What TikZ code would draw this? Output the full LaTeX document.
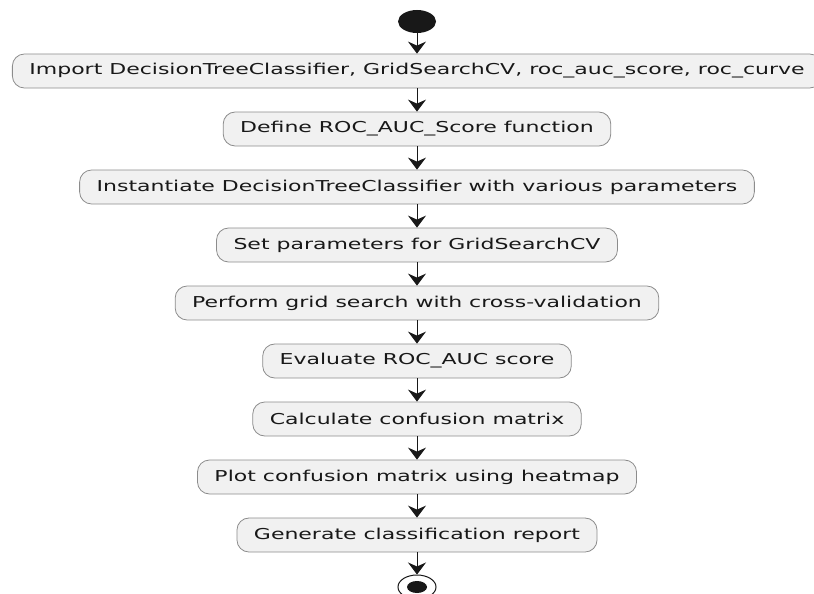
\documentclass[tikz,border=0pt]{standalone}
\usepackage{fontspec}
\setmainfont{DejaVu Sans}[FakeStretch=1.466]
\usetikzlibrary{arrows.meta,shapes.geometric}
\definecolor{actfill}{HTML}{F1F1F1}
\definecolor{actline}{HTML}{8C8C8C}
\definecolor{flowline}{HTML}{181818}
\begin{document}
\begin{tikzpicture}[
  x=1pt, y=1pt,
  action/.style={rectangle, rounded corners=12pt, draw=actline, line width=0.8pt, fill=actfill, minimum height=34pt, inner xsep=17pt, text=flowline},
  flow/.style={-{Stealth[length=12pt, width=18pt, inset=4pt]}, draw=flowline, line width=1pt},
  node distance=58pt,
  font=\fontsize{15}{18}\selectfont
]
\useasboundingbox (0,0) rectangle (814,-594);

\node[ellipse, fill=flowline, minimum width=38pt, minimum height=23pt, inner sep=0pt] (start) at (417,-21.5) {};
\node[action] (import) at (417,-71) {Import DecisionTreeClassifier, GridSearchCV, roc\_auc\_score, roc\_curve};
\node[action, below of=import] (defroc) {Define ROC\_AUC\_Score function};
\node[action, below of=defroc] (inst) {Instantiate DecisionTreeClassifier with various parameters};
\node[action, below of=inst] (setparams) {Set parameters for GridSearchCV};
\node[action, below of=setparams] (search) {Perform grid search with cross-validation};
\node[action, below of=search] (evalroc) {Evaluate ROC\_AUC score};
\node[action, below of=evalroc] (confmat) {Calculate confusion matrix};
\node[action, below of=confmat] (plotcm) {Plot confusion matrix using heatmap};
\node[action, below of=plotcm] (report) {Generate classification report};

% end point
\node[ellipse, draw=flowline, line width=1pt, fill=white, minimum width=38pt, minimum height=24pt, inner sep=0pt, below of=report, node distance=52pt] (stop) {};
\node[ellipse, fill=flowline, minimum width=20pt, minimum height=12pt, inner sep=0pt] (stopdot) at (stop) {};

\draw[flow] (start) -- (import);
\draw[flow] (import) -- (defroc);
\draw[flow] (defroc) -- (inst);
\draw[flow] (inst) -- (setparams);
\draw[flow] (setparams) -- (search);
\draw[flow] (search) -- (evalroc);
\draw[flow] (evalroc) -- (confmat);
\draw[flow] (confmat) -- (plotcm);
\draw[flow] (plotcm) -- (report);
\draw[flow] (report) -- (stop);
\end{tikzpicture}
\end{document}
